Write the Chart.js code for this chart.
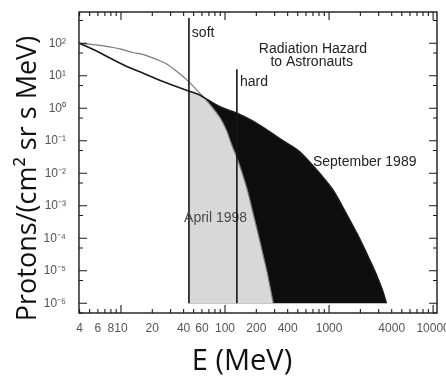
<!DOCTYPE html>
<html>
<head>
<meta charset="utf-8">
<script src="https://cdn.jsdelivr.net/npm/chart.js@4.4.1/dist/chart.umd.min.js"></script>
<style>
  html, body { margin: 0; padding: 0; background: #fff; overflow: hidden; }
  canvas { display: block; }
</style>
</head>
<body>
<canvas id="chart" width="446" height="381"></canvas>
<script>
// proton spectra: energy (MeV) -> flux
const SEPT_E = [4, 6, 8, 12, 16.4, 25, 35, 45, 55, 62, 90, 130, 180, 250, 360, 525, 650, 850, 1100, 1450, 1850, 2400, 2900, 3300, 3550];
const SEPT_F = [100, 55, 34, 18, 12, 6.8, 4.5, 3.4, 2.7, 2.2, 1.1, 0.7, 0.42, 0.22, 0.1, 0.045, 0.022, 0.0083, 0.0029, 6e-4, 1.4e-4, 2.5e-5, 6.5e-6, 2.2e-6, 1e-6];
const APR_E = [4, 6, 8, 10, 13, 16.4, 22, 27.5, 35, 45, 55, 62, 75, 90, 104, 116, 130, 145, 165, 187, 209, 230, 252, 272, 291];
const APR_F = [100, 88, 76, 66, 52, 45, 32, 23, 13, 6.5, 3.3, 2.2, 1.1, 0.5, 0.2, 0.075, 0.03, 0.011, 0.0028, 5.5e-4, 1.3e-4, 3.5e-5, 1e-5, 3e-6, 1e-6];

// soft / hard cut lines
const SOFT_E = 45;
const SOFT_TOP = 600;
const HARD_E = 130;
const HARD_TOP = 16;
const FLOOR = 1e-6;
const CROSS_E = 62;

const X_TICKS = [4, 6, 8, 10, 20, 40, 60, 100, 200, 400, 1000, 4000, 10000];
const Y_TICKS = [1e-6, 1e-5, 1e-4, 1e-3, 1e-2, 1e-1, 1, 10, 100];
const Y_TICK_LABELS = ['10⁻⁶', '10⁻⁵', '10⁻⁴', '10⁻³', '10⁻²', '10⁻¹', '10⁰', '10¹', '10²'];

const NOTES = [
  { text: 'soft', e: 48, f: 207, align: 'left' },
  { text: 'hard', e: 139, f: 6.5, align: 'left' },
  { text: 'Radiation Hazard', e: 700, f: 67, align: 'center' },
  { text: 'to Astronauts', e: 680, f: 26.6, align: 'center' },
  { text: 'September 1989', e: 700, f: 0.0225, align: 'left' },
  { text: 'April 1998', e: 40.4, f: 4.2e-4, align: 'left', color: '#4a4a4a' },
];

const TICK_FONT = { family: '"Liberation Sans", Arial, sans-serif', size: 12 };

const toPts = (xs, ys) => xs.map((x, i) => ({ x, y: ys[i] }));
const sept = toPts(SEPT_E, SEPT_F);
const april = toPts(APR_E, APR_F);
// light region sits under the lower of the two curves, right of the soft line
const greyEdge = sept
  .filter((p) => p.x >= SOFT_E && p.x <= CROSS_E)
  .concat(april.filter((p) => p.x > CROSS_E));
const blackEdge = sept.filter((p) => p.x >= SOFT_E);

const decor = {
  id: 'decor',
  afterDatasetsDraw(chart) {
    const { ctx, chartArea: a, scales: { x, y } } = chart;
    ctx.save();
    ctx.font = '14px "Liberation Sans", Arial, sans-serif';
    ctx.textBaseline = 'middle';
    for (const n of NOTES) {
      ctx.fillStyle = n.color || '#222';
      ctx.textAlign = n.align;
      ctx.fillText(n.text, x.getPixelForValue(n.e), y.getPixelForValue(n.f));
    }

    // hard line runs over the label
    ctx.strokeStyle = '#151515';
    ctx.lineWidth = 1.6;
    ctx.beginPath();
    const hx = x.getPixelForValue(HARD_E);
    ctx.moveTo(hx, y.getPixelForValue(HARD_TOP));
    ctx.lineTo(hx, y.getPixelForValue(FLOOR));
    ctx.stroke();

    ctx.strokeStyle = '#1a1a1a';
    ctx.lineWidth = 1.4;
    ctx.strokeRect(a.left, a.top, a.right - a.left, a.bottom - a.top);

    ctx.lineWidth = 1.1;
    ctx.beginPath();
    for (let d = 1; d <= 10000; d *= 10) {
      for (let m = 1; m <= 9; m++) {
        const v = m * d;
        if (v < x.min || v > x.max) continue;
        const len = m === 1 ? 8 : 4;
        const px = x.getPixelForValue(v);
        ctx.moveTo(px, a.bottom); ctx.lineTo(px, a.bottom - len);
        ctx.moveTo(px, a.top); ctx.lineTo(px, a.top + len);
      }
    }
    for (let n = -7; n <= 2; n++) {
      for (const m of [1, 5]) {
        const v = m * Math.pow(10, n);
        if (v < y.min || v > y.max) continue;
        const len = m === 1 ? 8 : 4;
        const py = y.getPixelForValue(v);
        ctx.moveTo(a.left, py); ctx.lineTo(a.left + len, py);
        ctx.moveTo(a.right, py); ctx.lineTo(a.right - len, py);
      }
    }
    ctx.stroke();
    ctx.restore();
  },
  afterDraw(chart) {
    const { ctx, chartArea: a } = chart;
    ctx.save();
    ctx.fillStyle = '#111';
    ctx.textAlign = 'center';
    ctx.textBaseline = 'alphabetic';
    ctx.font = '29px "Open Sans", sans-serif';
    ctx.fillText('E (MeV)', (a.left + a.right) / 2 - 16, 370);
    ctx.translate(36, (a.top + a.bottom) / 2 + 16);
    ctx.rotate(-Math.PI / 2);
    ctx.font = '27px "Open Sans", sans-serif';
    ctx.fillText('Protons/(cm² sr s MeV)', 0, 0);
    ctx.restore();
  },
};

new Chart(document.getElementById('chart'), {
  type: 'line',
  data: {
    datasets: [
      { label: 'soft', data: [{ x: SOFT_E, y: SOFT_TOP }, { x: SOFT_E, y: FLOOR }], borderColor: '#151515', borderWidth: 1.6, order: 0 },
      { label: 'September 1989', data: sept, borderColor: '#1a1a1a', borderWidth: 1.6, cubicInterpolationMode: 'monotone', order: 1 },
      { label: 'April 1998', data: april, borderColor: '#7a7a7a', borderWidth: 1.2, cubicInterpolationMode: 'monotone', order: 1 },
      { label: 'April area', data: greyEdge, fill: { value: FLOOR }, backgroundColor: '#d8d8d8', borderWidth: 0, cubicInterpolationMode: 'monotone', order: 2 },
      { label: 'September area', data: blackEdge, fill: { value: FLOOR }, backgroundColor: '#0e0e0e', borderWidth: 0, cubicInterpolationMode: 'monotone', order: 3 },
    ],
  },
  options: {
    responsive: false,
    animation: false,
    devicePixelRatio: 1,
    layout: { padding: { left: 0, right: 9, top: 12, bottom: 0 } },
    elements: { point: { radius: 0 }, line: { tension: 0 } },
    plugins: { legend: { display: false }, tooltip: { enabled: false } },
    scales: {
      x: {
        type: 'logarithmic',
        min: 3.95,
        max: 10900,
        grid: { display: false, drawTicks: false },
        border: { display: false },
        ticks: {
          autoSkip: false,
          maxRotation: 0,
          padding: 8,
          color: '#555',
          font: TICK_FONT,
          callback: (v, i) => String(X_TICKS[i]),
        },
        afterBuildTicks: (s) => { s.ticks = X_TICKS.map((value) => ({ value })); },
        afterFit: (s) => { s.height = 68; s.paddingLeft = 0; s.paddingRight = 0; },
      },
      y: {
        type: 'logarithmic',
        min: 5e-7,
        max: 918,
        grid: { display: false, drawTicks: false },
        border: { display: false },
        ticks: {
          padding: 13,
          color: '#555',
          font: TICK_FONT,
          callback: (v, i) => Y_TICK_LABELS[i],
        },
        afterBuildTicks: (s) => { s.ticks = Y_TICKS.map((value) => ({ value })); },
        afterFit: (s) => { s.width = 79; s.paddingTop = 0; s.paddingBottom = 0; },
      },
    },
  },
  plugins: [decor],
});
</script>
</body>
</html>
